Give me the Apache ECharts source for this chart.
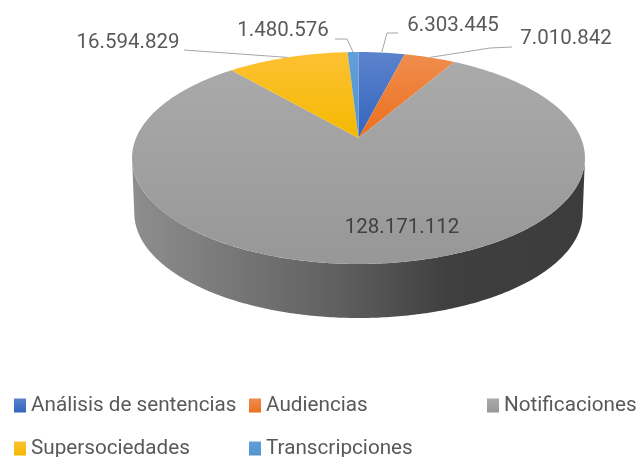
<!DOCTYPE html>
<html>
<head>
<meta charset="utf-8">
<style>
  html,body{margin:0;padding:0;background:#fff;}
  #chart{width:642px;height:457px;}
</style>
</head>
<body>
<div id="chart"></div>
<script src="https://cdn.jsdelivr.net/npm/echarts@6/dist/echarts.min.js"></script>
<script>
const categories = ['Análisis de sentencias', 'Audiencias', 'Notificaciones', 'Supersociedades', 'Transcripciones'];
const values = [6303445, 7010842, 128171112, 16594829, 1480576];

// disco en perspectiva: centro, radios y fuerza de la perspectiva
const X0 = 358.5, Y0 = 138, RX = 222.4, RY = 102.2, P = 0.1887;
const DEPTH = 55.3, BOTTOM_SCALE = 0.99;
const XR = 1.2, YTOP = 1.3, YBOTTOM = 1.9;

const total = values.reduce((a, b) => a + b, 0);
const grad = (a, b) => new echarts.graphic.LinearGradient(0, 0, 0, 1, [
  {offset: 0, color: a}, {offset: 1, color: b}
]);
const fills = [
  grad('#5c82cc', '#3465bf'),
  grad('#ef8d4e', '#ec6f1c'),
  grad('#aaaaaa', '#979797'),
  grad('#fdc133', '#f4b900'),
  grad('#609fd8', '#5394d0')
];
// etiquetas: centro del texto y puntos del conector (px)
const labelBoxes = [
  {x: 453, y: 26, line: [[398, 33], [387, 33]]},
  {x: 566, y: 39, line: [[512, 47], [490, 48]]},
  {x: 402, y: 228, line: null, color: '#404040'},
  {x: 128, y: 43, line: [[184, 50]]},
  {x: 283, y: 31, line: [[335, 39], [347, 39]]}
];
const legendPos = [[14, 395], [249, 395], [487, 395], [14, 438], [249, 438]];

function project(deg) {
  const t = deg * Math.PI / 180, u = Math.sin(t), v = Math.cos(t), w = 1 + P * v;
  return [u / w, v / w];
}
function fmt(n) {
  return String(n).replace(/\B(?=(\d{3})+$)/g, '.');
}
function sliceAngles(i) {
  let before = 0;
  for (let k = 0; k < i; k++) before += values[k];
  return [before / total * 360, (before + values[i]) / total * 360];
}

function renderSlice(i, params, api) {
  const [a0, a1] = sliceAngles(i);
  const value = api.value(0);
  const mid = (a0 + a1) / 2;
  const children = [];
  const steps = Math.max(4, Math.ceil(a1 - a0));

  // pared lateral, solo la parte visible (entre los extremos del disco)
  const w0 = Math.max(a0, 100.9), w1 = Math.min(a1, 259.1);
  if (w1 > w0) {
    const top = [], bottom = [];
    for (let s = 0; s <= 240; s++) {
      const p = api.coord(project(w0 + (w1 - w0) * s / 240));
      top.push(p);
      bottom.unshift([X0 + (p[0] - X0) * BOTTOM_SCALE, Y0 + (p[1] - Y0) * BOTTOM_SCALE + DEPTH]);
    }
    children.push({
      type: 'polygon',
      shape: {points: top.concat(bottom)},
      style: {
        fill: new echarts.graphic.LinearGradient(132, 0, 585, 0, [
          {offset: 0, color: '#8e8e8e'},
          {offset: 0.45, color: '#606060'},
          {offset: 0.7, color: '#3f3f3f'},
          {offset: 1, color: '#3c3c3c'}
        ], true)
      }
    });
  }

  // cara superior
  const pts = [api.coord([0, 0])];
  for (let s = 0; s <= steps; s++) pts.push(api.coord(project(a0 + (a1 - a0) * s / steps)));
  children.push({type: 'polygon', shape: {points: pts}, style: {fill: fills[i]}});

  // conector y etiqueta
  const box = labelBoxes[i];
  if (box.line) {
    children.push({
      type: 'polyline',
      z2: 5,
      shape: {points: box.line.concat([api.coord(project(mid))])},
      style: {stroke: '#a6a6a6', lineWidth: 1, fill: null}
    });
  }
  children.push({
    type: 'text',
    z2: 6,
    x: box.x,
    y: box.y,
    style: {
      text: fmt(value),
      fill: box.color || '#595959',
      font: '20.5px Roboto',
      align: 'center',
      verticalAlign: 'middle'
    }
  });
  return {type: 'group', children: children};
}

const chart = echarts.init(document.getElementById('chart'), null, {renderer: 'canvas'});
chart.setOption({
  animation: false,
  grid: {
    left: X0 - XR * RX,
    top: Y0 - YTOP * RY,
    width: 2 * XR * RX,
    height: (YTOP + YBOTTOM) * RY
  },
  xAxis: {type: 'value', min: -XR, max: XR, show: false},
  yAxis: {type: 'value', min: -YBOTTOM, max: YTOP, show: false},
  legend: categories.map((name, i) => ({
    data: [name],
    left: legendPos[i][0],
    top: legendPos[i][1],
    padding: 0,
    icon: 'rect',
    itemWidth: 12,
    itemHeight: 14,
    itemGap: 0,
    selectedMode: false,
    textStyle: {color: '#595959', fontFamily: 'Roboto', fontSize: 20.7}
  })),
  series: categories.map((name, i) => ({
    type: 'custom',
    name: name,
    coordinateSystem: 'cartesian2d',
    clip: false,
    silent: true,
    itemStyle: {color: fills[i]},
    encode: {x: 0, y: 1},
    data: [[values[i], 0]],
    renderItem: (params, api) => renderSlice(i, params, api)
  }))
});
</script>
</body>
</html>
